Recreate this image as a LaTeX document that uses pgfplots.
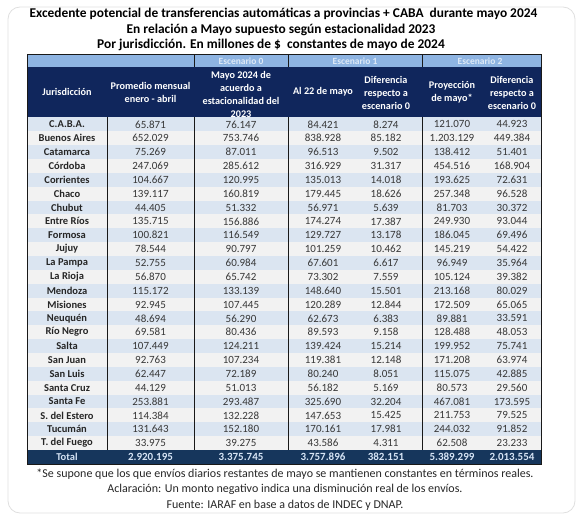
\documentclass[border=0pt]{standalone}
\usepackage{pgfplots}
\usepackage{pgfplotstable}
\pgfplotsset{compat=1.18}
\usepackage{fontspec}
\setmainfont{Carlito}
\definecolor{scen}{RGB}{142,180,226}
\definecolor{navy}{RGB}{16,38,92}
\definecolor{totnavy}{RGB}{22,54,92}
\definecolor{rowblue}{RGB}{219,229,241}
\definecolor{rowgrey}{RGB}{242,242,242}
\definecolor{scentxt}{RGB}{222,233,246}
\definecolor{tottxt}{RGB}{214,228,245}
\definecolor{numtxt}{RGB}{55,55,55}
\definecolor{linec}{RGB}{25,25,25}

\pgfplotstableread[col sep=comma]{
r,name,prom,may,al,dif,proy,difb
0,C.A.B.A.,65871,76147,84421,8274,121070,44923
1,Buenos Aires,652029,753746,838928,85182,1203129,449384
2,Catamarca,75269,87011,96513,9502,138412,51401
3,Córdoba,247069,285612,316929,31317,454516,168904
4,Corrientes,104667,120995,135013,14018,193625,72631
5,Chaco,139117,160819,179445,18626,257348,96528
6,Chubut,44405,51332,56971,5639,81703,30372
7,Entre Ríos,135715,156886,174274,17387,249930,93044
8,Formosa,100821,116549,129727,13178,186045,69496
9,Jujuy,78544,90797,101259,10462,145219,54422
10,La Pampa,52755,60984,67601,6617,96949,35964
11,La Rioja,56870,65742,73302,7559,105124,39382
12,Mendoza,115172,133139,148640,15501,213168,80029
13,Misiones,92945,107445,120289,12844,172509,65065
14,Neuquén,48694,56290,62673,6383,89881,33591
15,Río Negro,69581,80436,89593,9158,128488,48053
16,Salta,107449,124211,139424,15214,199952,75741
17,San Juan,92763,107234,119381,12148,171208,63974
18,San Luis,62447,72189,80240,8051,115075,42885
19,Santa Cruz,44129,51013,56182,5169,80573,29560
20,Santa Fe,253881,293487,325690,32204,467081,173595
21,S. del Estero,114384,132228,147653,15425,211753,79525
22,Tucumán,131643,152180,170161,17981,244032,91852
23,T. del Fuego,33975,39275,43586,4311,62508,23233
}\datos

\pgfplotstableread[col sep=comma]{
r,name,prom,may,al,dif,proy,difb
24,Total,2920195,3375745,3757896,382151,5389299,2013554
}\total

\begin{document}
\begin{tikzpicture}
\begin{axis}[
  scale only axis, width=582pt, height=516pt,
  xmin=0, xmax=582, ymin=0, ymax=516, y dir=reverse,
  hide axis, clip=false,
  /pgf/number format/assume math mode=true,
  /pgf/number format/1000 sep={.},
  /pgf/number format/fixed, /pgf/number format/precision=0,
  cell/.style={draw=none, mark=none, point meta=explicit symbolic,
    nodes near coords={\pgfmathprintnumber{\pgfplotspointmeta}},
    every node near coord/.append style={anchor=center, inner sep=0pt,
      font=\fontsize{11}{12}\selectfont, text=numtxt}},
  tot/.style={draw=none, mark=none, point meta=explicit symbolic,
    nodes near coords={\pgfmathprintnumber{\pgfplotspointmeta}},
    every node near coord/.append style={anchor=center, inner sep=0pt,
      font=\fontsize{11}{12}\selectfont\bfseries, text=tottxt}},
]
% picture extent
\path (0,0) rectangle (582,516);
% outer card
\draw[gray!25, line width=0.8pt, rounded corners=12pt] (8,7) rectangle (575,513);
% titles
\node[font=\fontsize{13.4}{15}\selectfont\bfseries, anchor=center] at (283.5,13.5) {Excedente potencial de transferencias automáticas a provincias + CABA\ \ durante mayo 2024};
\node[font=\fontsize{13.4}{15}\selectfont\bfseries, anchor=center] at (281,29.5) {En relación a Mayo supuesto según estacionalidad 2023};
\node[font=\fontsize{13.4}{15}\selectfont\bfseries, anchor=center] at (271,45) {Por jurisdicción. En millones de \$\ \ constantes de mayo de 2024};
% scenario row and header
\fill[scen] (27,54.5) rectangle (541,67);
\fill[navy] (27,67) rectangle (541,117.4);
\node[font=\fontsize{9.5}{11}\selectfont\bfseries, text=scentxt] at (241,61) {Escenario 0};
\node[font=\fontsize{9.5}{11}\selectfont\bfseries, text=scentxt] at (355,61) {Escenario 1};
\node[font=\fontsize{9.5}{11}\selectfont\bfseries, text=scentxt] at (480,61) {Escenario 2};
\begin{scope}[every node/.style={font=\fontsize{10.2}{13}\selectfont\bfseries, text=white, align=center, anchor=center}]
\node at (67,92) {Jurisdicción};
\node at (150.5,92) {Promedio mensual\\enero - abril};
\node[anchor=north] at (241,67.5) {Mayo 2024 de\\acuerdo a\\estacionalidad del\\2023};
\node at (323,92) {Al 22 de mayo};
\node at (386,92.5) {Diferencia\\respecto a\\escenario 0};
\node at (452,92) {Proyección\\de mayo*};
\node at (512,92.5) {Diferencia\\respecto a\\escenario 0};
\end{scope}
% data rows
\fill[rowgrey] (27,117.4) rectangle (541,450);
\pgfplotsinvokeforeach{0,2,...,22}{
  \fill[rowblue] (27,{117.4+13.86*#1}) rectangle (541,{117.4+13.86*(#1+1)});
}
\fill[totnavy] (27,450) rectangle (541,464.5);
% lines
\draw[linec, line width=0.9pt] (27,54.5) rectangle (541,464.5);
\draw[linec, line width=0.9pt] (107,117.4) -- (107,450);
\draw[linec, line width=0.9pt] (194,54.5) -- (194,67) (194,117.4) -- (194,450);
\draw[linec, line width=0.9pt] (288,54.5) -- (288,67) (288,117.4) -- (288,450);
\draw[linec, line width=0.9pt] (422,54.5) -- (422,67) (422,117.4) -- (422,450);
% data
\addplot[draw=none, mark=none, point meta=explicit symbolic, nodes near coords,
  every node near coord/.append style={anchor=center, inner sep=0pt,
    font=\fontsize{10.5}{12}\selectfont\bfseries, text=black!85}]
  table[x expr=67, y expr={124.33+13.86*\thisrow{r}}, meta=name] {\datos};
\addplot[cell] table[x expr=150.5, y expr={124.33+13.86*\thisrow{r}}, meta=prom] {\datos};
\addplot[cell] table[x expr=241, y expr={124.33+13.86*\thisrow{r}}, meta=may] {\datos};
\addplot[cell] table[x expr=323, y expr={124.33+13.86*\thisrow{r}}, meta=al] {\datos};
\addplot[cell] table[x expr=386, y expr={124.33+13.86*\thisrow{r}}, meta=dif] {\datos};
\addplot[cell] table[x expr=452, y expr={124.33+13.86*\thisrow{r}}, meta=proy] {\datos};
\addplot[cell] table[x expr=512, y expr={124.33+13.86*\thisrow{r}}, meta=difb] {\datos};
% total
\addplot[draw=none, mark=none, point meta=explicit symbolic, nodes near coords,
  every node near coord/.append style={anchor=center, inner sep=0pt,
    font=\fontsize{10.5}{12}\selectfont\bfseries, text=tottxt}]
  table[x expr=67, y expr=457.2, meta=name] {\total};
\addplot[tot] table[x expr=150.5, y expr=457.2, meta=prom] {\total};
\addplot[tot] table[x expr=241, y expr=457.2, meta=may] {\total};
\addplot[tot] table[x expr=323, y expr=457.2, meta=al] {\total};
\addplot[tot] table[x expr=386, y expr=457.2, meta=dif] {\total};
\addplot[tot] table[x expr=452, y expr=457.2, meta=proy] {\total};
\addplot[tot] table[x expr=512, y expr=457.2, meta=difb] {\total};
% footnotes
\begin{scope}[every node/.style={font=\fontsize{12}{14}\selectfont, text=black!85, anchor=center}]
\node at (285,474) {*Se supone que los que envíos diarios restantes de mayo se mantienen constantes en términos reales.};
\node at (285,489.5) {Aclaración: Un monto negativo indica una disminución real de los envíos.};
\node at (285,505) {Fuente: IARAF en base a datos de INDEC y DNAP.};
\end{scope}
\end{axis}
\end{tikzpicture}
\end{document}
